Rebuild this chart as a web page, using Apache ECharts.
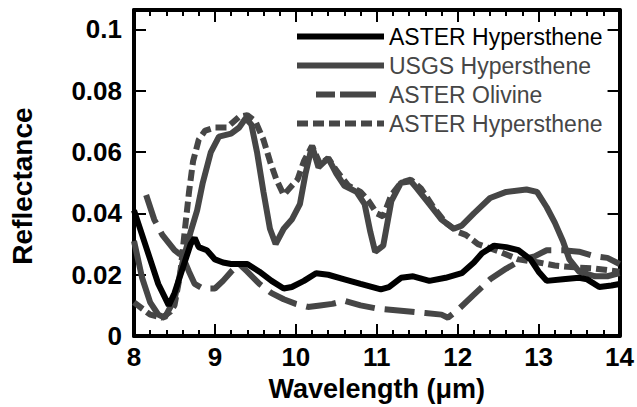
<!DOCTYPE html>
<html>
<head>
<meta charset="utf-8">
<script src="https://cdn.jsdelivr.net/npm/echarts@6/dist/echarts.min.js"></script>
<style>
html,body{margin:0;padding:0;background:#fff;}
#chart{width:637px;height:407px;}
</style>
</head>
<body>
<div id="chart"></div>
<script>
// ---- Data ----
var xTicks = [8, 9, 10, 11, 12, 13, 14];
var yTicks = [0, 0.02, 0.04, 0.06, 0.08, 0.1];
var legendLabels = ['ASTER Hypersthene', 'USGS Hypersthene', 'ASTER Olivine', 'ASTER Hypersthene'];

// ASTER Hypersthene (solid black)
var asterHypWl = [8.0, 8.1, 8.2, 8.3, 8.43, 8.5, 8.6, 8.7, 8.75, 8.8, 8.9, 9.0, 9.1, 9.2, 9.4, 9.55, 9.7, 9.85, 9.95, 10.1, 10.25, 10.4, 10.6, 10.8, 11.05, 11.15, 11.3, 11.45, 11.65, 11.85, 12.05, 12.2, 12.3, 12.45, 12.6, 12.75, 12.9, 13.0, 13.1, 13.3, 13.5, 13.6, 13.75, 13.9, 14.0];
var asterHypR  = [0.041, 0.033, 0.025, 0.017, 0.010, 0.014, 0.022, 0.030, 0.032, 0.029, 0.028, 0.025, 0.024, 0.0235, 0.0235, 0.021, 0.018, 0.0155, 0.016, 0.018, 0.0205, 0.020, 0.0185, 0.017, 0.0152, 0.016, 0.019, 0.0195, 0.018, 0.019, 0.0205, 0.024, 0.027, 0.0295, 0.029, 0.028, 0.025, 0.021, 0.018, 0.0185, 0.019, 0.0185, 0.016, 0.0165, 0.017];

// USGS Hypersthene (solid grey)
var usgsHypWl = [8.0, 8.1, 8.2, 8.3, 8.38, 8.5, 8.6, 8.7, 8.78, 8.85, 8.95, 9.05, 9.2, 9.3, 9.38, 9.45, 9.52, 9.6, 9.68, 9.75, 9.85, 9.95, 10.05, 10.12, 10.2, 10.28, 10.4, 10.5, 10.6, 10.75, 10.85, 10.92, 10.98, 11.08, 11.18, 11.3, 11.42, 11.5, 11.65, 11.8, 11.95, 12.05, 12.2, 12.4, 12.6, 12.85, 12.98, 13.1, 13.2, 13.3, 13.38, 13.5, 13.7, 13.85, 14.0];
var usgsHypR  = [0.031, 0.019, 0.011, 0.007, 0.006, 0.012, 0.024, 0.034, 0.041, 0.050, 0.060, 0.065, 0.066, 0.068, 0.071, 0.069, 0.060, 0.047, 0.035, 0.030, 0.035, 0.038, 0.043, 0.053, 0.062, 0.055, 0.058, 0.053, 0.049, 0.047, 0.043, 0.034, 0.0275, 0.0295, 0.044, 0.050, 0.0505, 0.048, 0.043, 0.038, 0.035, 0.036, 0.040, 0.045, 0.047, 0.0478, 0.047, 0.042, 0.037, 0.031, 0.025, 0.021, 0.0195, 0.0195, 0.0205];

// ASTER Olivine (long dashes, grey)
var olivineWl = [8.15, 8.25, 8.35, 8.5, 8.6, 8.68, 8.75, 8.85, 9.0, 9.1, 9.2, 9.3, 9.4, 9.55, 9.7, 9.85, 10.0, 10.15, 10.3, 10.45, 10.6, 10.8, 11.0, 11.2, 11.4, 11.6, 11.8, 11.88, 12.0, 12.2, 12.4, 12.6, 12.8, 12.95, 13.1, 13.3, 13.5, 13.7, 13.85, 14.0];
var olivineR  = [0.046, 0.038, 0.033, 0.028, 0.026, 0.021, 0.017, 0.0155, 0.0155, 0.018, 0.021, 0.0235, 0.021, 0.017, 0.014, 0.012, 0.0105, 0.0095, 0.010, 0.0105, 0.0115, 0.010, 0.009, 0.0085, 0.008, 0.0075, 0.007, 0.006, 0.0085, 0.0135, 0.0185, 0.022, 0.025, 0.026, 0.028, 0.028, 0.0275, 0.026, 0.0255, 0.0235];

// ASTER Hypersthene (short dashes, grey)
var asterHyp2Wl = [8.0, 8.1, 8.2, 8.35, 8.45, 8.5, 8.57, 8.63, 8.68, 8.73, 8.8, 8.88, 9.0, 9.15, 9.3, 9.4, 9.5, 9.6, 9.68, 9.76, 9.85, 9.95, 10.02, 10.1, 10.2, 10.3, 10.4, 10.5, 10.65, 10.8, 10.9, 11.0, 11.08, 11.18, 11.3, 11.42, 11.55, 11.7, 11.85, 12.0, 12.1, 12.25, 12.5, 12.75, 13.0, 13.2, 13.4, 13.7, 14.0];
var asterHyp2R  = [0.011, 0.009, 0.007, 0.006, 0.008, 0.010, 0.020, 0.035, 0.047, 0.057, 0.064, 0.067, 0.068, 0.068, 0.0715, 0.072, 0.070, 0.064, 0.057, 0.051, 0.046, 0.049, 0.051, 0.057, 0.062, 0.056, 0.058, 0.054, 0.049, 0.047, 0.044, 0.040, 0.039, 0.046, 0.050, 0.051, 0.048, 0.042, 0.037, 0.034, 0.033, 0.030, 0.0277, 0.025, 0.024, 0.023, 0.0225, 0.022, 0.021];

function pairs(xs, ys) { return xs.map(function (x, i) { return [x, ys[i]]; }); }

var GREY = '#464646';
var FONT = 'Liberation Sans, Arial, sans-serif';
var ids = ['hyp1', 'usgs', 'oliv', 'hyp2'];

var chart = echarts.init(document.getElementById('chart'), null, { renderer: 'svg' });
var tickStyle = { color: '#000', width: 2 };
var yMax = 0.1063;

chart.setOption({
  animation: false,
  backgroundColor: '#fff',
  grid: { left: 129, right: 16, top: 10, bottom: 69, show: false },
  legend: {
    left: 294, top: 25, orient: 'vertical', padding: 0,
    itemWidth: 87, itemHeight: 14, itemGap: 6,
    selectedMode: false,
    itemStyle: { opacity: 0 },
    lineStyle: { width: 6 },
    textStyle: { fontSize: 23, fontFamily: FONT, lineHeight: 23 },
    formatter: function (n) { return legendLabels[ids.indexOf(n)]; },
    data: [
      { name: 'hyp1', textStyle: { color: '#000' } },
      { name: 'usgs', textStyle: { color: GREY } },
      { name: 'oliv', textStyle: { color: GREY }, lineStyle: { width: 6, type: [19, 5, 36, 27], dashOffset: 68 } },
      { name: 'hyp2', textStyle: { color: GREY } }
    ]
  },
  xAxis: [
    {
      type: 'value', min: xTicks[0], max: xTicks[xTicks.length - 1], interval: 1, position: 'bottom',
      axisLine: { show: true, onZero: false, lineStyle: { color: '#000', width: 4 } },
      axisTick: { show: true, inside: true, length: 12, lineStyle: tickStyle },
      minorTick: { show: true, splitNumber: 5, length: 6, lineStyle: tickStyle },
      splitLine: { show: false },
      axisLabel: { color: '#000', fontSize: 26, fontWeight: 'bold', fontFamily: FONT, margin: 8 },
      name: 'Wavelength (\u03bcm)', nameLocation: 'middle', nameGap: 37,
      nameTextStyle: { color: '#000', fontSize: 27, fontWeight: 'bold', fontFamily: FONT }
    },
    {
      type: 'value', min: xTicks[0], max: xTicks[xTicks.length - 1], interval: 1, position: 'top',
      axisLine: { show: true, onZero: false, lineStyle: { color: '#000', width: 4 } },
      axisTick: { show: true, inside: true, length: 12, lineStyle: tickStyle },
      minorTick: { show: true, splitNumber: 5, length: 6, lineStyle: tickStyle },
      splitLine: { show: false },
      axisLabel: { show: false }
    }
  ],
  yAxis: [
    {
      type: 'value', min: 0, max: yMax, interval: 0.02, position: 'left',
      axisLine: { show: true, onZero: false, lineStyle: { color: '#000', width: 4 } },
      axisTick: { show: true, inside: true, length: 12, lineStyle: tickStyle },
      splitLine: { show: false },
      axisLabel: {
        color: '#000', fontSize: 26, fontWeight: 'bold', fontFamily: FONT, margin: 12,
        showMaxLabel: false,
        formatter: function (v) {
          for (var i = 0; i < yTicks.length; i++) {
            if (Math.abs(v - yTicks[i]) < 1e-6) return String(yTicks[i]);
          }
          return '';
        }
      },
      name: 'Reflectance', nameLocation: 'middle', nameGap: 98, nameRotate: 90,
      nameTextStyle: { color: '#000', fontSize: 28, fontWeight: 'bold', fontFamily: FONT, padding: [0, 26, 0, 0] }
    },
    {
      type: 'value', min: 0, max: yMax, interval: 0.02, position: 'right',
      axisLine: { show: true, onZero: false, lineStyle: { color: '#000', width: 4 } },
      axisTick: { show: true, inside: true, length: 12, lineStyle: tickStyle },
      splitLine: { show: false },
      axisLabel: { show: false }
    }
  ],
  series: [
    {
      id: 'oliv', name: 'oliv', type: 'line', showSymbol: false, symbol: 'none', z: 2,
      data: pairs(olivineWl, olivineR),
      lineStyle: { color: GREY, width: 6, type: [30, 10], cap: 'butt' },
      itemStyle: { color: GREY }
    },
    {
      id: 'hyp2', name: 'hyp2', type: 'line', showSymbol: false, symbol: 'none', z: 3,
      data: pairs(asterHyp2Wl, asterHyp2R),
      lineStyle: { color: GREY, width: 6, type: [11, 5], cap: 'butt' },
      itemStyle: { color: GREY }
    },
    {
      id: 'usgs', name: 'usgs', type: 'line', showSymbol: false, symbol: 'none', z: 4,
      data: pairs(usgsHypWl, usgsHypR),
      lineStyle: { color: GREY, width: 6 },
      itemStyle: { color: GREY }
    },
    {
      id: 'hyp1', name: 'hyp1', type: 'line', showSymbol: false, symbol: 'none', z: 5,
      data: pairs(asterHypWl, asterHypR),
      lineStyle: { color: '#000', width: 6 },
      itemStyle: { color: '#000' }
    }
  ]
});
</script>
</body>
</html>
